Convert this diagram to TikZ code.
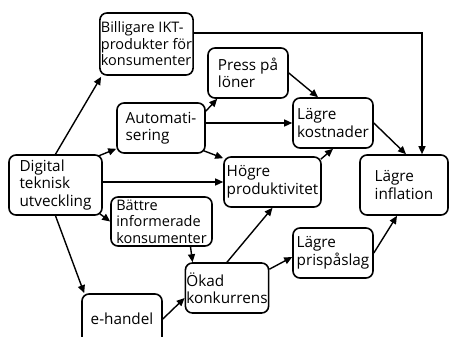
\documentclass[tikz,border=0pt]{standalone}
\usepackage{fontspec}
\setmainfont{Open Sans}
\usetikzlibrary{calc,arrows.meta}
\tikzset{
  box/.style={draw, line width=1.6pt, rounded corners=7pt, align=left, inner sep=1pt,
    font=\fontsize{15.3}{17.5}\selectfont},
  smallbox/.style={box, font=\fontsize{14.5}{16.5}\selectfont},
  arr/.style={line width=1.4pt, -{Triangle[length=8pt,width=7pt]}},
}
\begin{document}
\begin{tikzpicture}[x=1pt,y=-1pt]
\useasboundingbox (0,0) rectangle (450,337);
\begin{scope}
\clip (0,0) rectangle (450,337);
\node[smallbox, minimum width=93pt, minimum height=62pt] (bill) at (146.5,44) {Billigare IKT-\\produkter för\\konsumenter};
\node[box, minimum width=80pt, minimum height=50pt] (press) at (248,73) {Press på\\löner};
\node[box, minimum width=88pt, minimum height=50pt] (auto) at (161,128) {Automati-\\sering};
\node[box, minimum width=80pt, minimum height=50pt] (kost) at (333,123) {Lägre\\kostnader};
\node[box, minimum width=93pt, minimum height=60pt] (digi) at (55.5,185) {Digital\\teknisk\\utveckling};
\node[box, minimum width=97pt, minimum height=50pt] (hogr) at (272.5,182) {Högre\\produktivitet};
\node[box, minimum width=88pt, minimum height=60pt] (infl) at (404,185) {Lägre\\inflation};
\node[smallbox, minimum width=101pt, minimum height=49pt] (batt) at (161.5,221.5) {Bättre\\informerade\\konsumenter};
\node[box, minimum width=80pt, minimum height=50pt] (okad) at (227,288) {Ökad\\konkurrens};
\node[box, minimum width=80pt, minimum height=50pt] (pris) at (333,253) {Lägre\\prispåslag};
\node[box, minimum width=80pt, minimum height=50pt] (ehan) at (122,319) {e-handel};

\draw[arr] (digi.north) -- ($(bill.south west)+(2,1)$);
\draw[arr] ($(digi.north east)+(-5,2)$) -- ($(auto.south west)+(0,-5)$);
\draw[arr] (hogr.west -| digi.east) -- (hogr.west);
\draw[arr] ($(digi.south east)+(-3,-2)$) -- (batt.west);
\draw[arr] (digi.south) -- ($(ehan.north west)+(3,0)$);
\draw[arr] ($(bill.east)+(0,-11)$) -| ($(infl.north)+(18,0)$);
\draw[arr] ($(auto.north east)+(0,9)$) -- ($(press.south west)+(10,0)$);
\draw[arr] (kost.west -| auto.east) -- (kost.west);
\draw[arr] ($(auto.south east)+(-2,-3)$) -- ($(hogr.north west)+(0,2)$);
\draw[arr] (press.east) -- ($(kost.north)+(-15,0)$);
\draw[arr] (kost.east) -- ($(infl.north)+(2,0)$);
\draw[arr] ($(hogr.north east)+(-1,3)$) -- (kost.south);
\draw[arr] ($(batt.south)+(29,0)$) -- ($(okad.north west)+(8,0)$);
\draw[arr] (ehan.east) -- ($(okad.west)+(0,10)$);
\draw[arr] (okad.north) -- (hogr.south);
\draw[arr] ($(okad.north east)+(0,7)$) -- ($(pris.west)+(0,4)$);
\draw[arr] (pris.east) -- ($(infl.south)+(-7,0)$);
\end{scope}
\end{tikzpicture}
\end{document}
